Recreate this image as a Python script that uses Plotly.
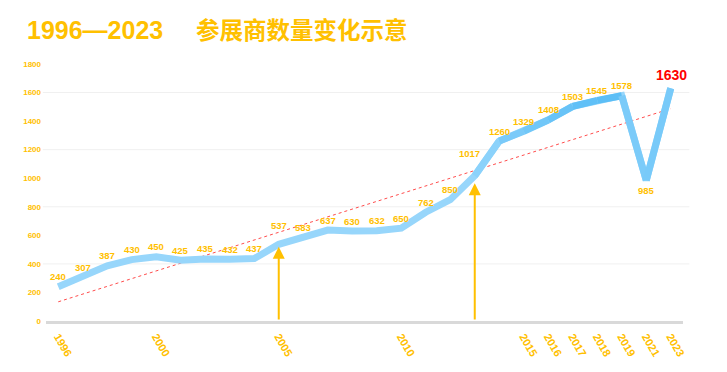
import numpy as np
import plotly.graph_objects as go

# ---- data ----
years = ["1996", "1997", "1998", "1999", "2000", "2001", "2002", "2003", "2004",
         "2005", "2006", "2007", "2008", "2009", "2010", "2011", "2012", "2013",
         "2014", "2015", "2016", "2017", "2018", "2019", "2021", "2023"]
exhibitors = [240, 307, 387, 430, 450, 425, 435, 432, 437, 537, 583, 637, 630,
              632, 650, 762, 850, 1017, 1260, 1329, 1408, 1503, 1545, 1578, 985, 1630]
tick_years = ["1996", "2000", "2005", "2010", "2015", "2016", "2017", "2018",
              "2019", "2021", "2023"]
y_ticks = [0, 200, 400, 600, 800, 1000, 1200, 1400, 1600, 1800]
grid_values = [400, 800, 1200, 1600]
arrow_years = ["2005", "2013"]
arrow_tops = [520, 965]
title_text = ("1996—2023\u00a0\u00a0\u00a0\u00a0\u2009"
              "<span style=\"font-family:'Noto Sans CJK SC';font-size:23.5px\">参展商数量变化示意</span>")

GOLD = "#FFC000"

idx = np.arange(len(years))
vals = np.array(exhibitors, dtype=float)
slope, intercept = np.polyfit(idx, vals, 1)
trend = intercept + slope * idx

fig = go.Figure()

fig.add_trace(go.Scatter(
    x=years, y=list(trend), mode="lines",
    line=dict(color="rgba(255,0,0,0.7)", width=1, dash="dot"),
    hoverinfo="skip", showlegend=False))

# base line
fig.add_trace(go.Scatter(
    x=years, y=exhibitors, mode="lines",
    line=dict(color="#97D6FB", width=7),
    showlegend=False))

# vertical gradient approximation: colour each segment by its height
light = np.array([0x9A, 0xD8, 0xFC])
dark = np.array([0x58, 0xBC, 0xF6])


def seg_color(v):
    t = np.clip((v - 1000) / (1600 - 1000), 0, 1)
    c = light + (dark - light) * t
    return "rgb(%d,%d,%d)" % tuple(int(round(u)) for u in c)


for i in range(len(years) - 1):
    mid = (vals[i] + vals[i + 1]) / 2
    if max(vals[i], vals[i + 1]) < 1100:
        continue
    fig.add_trace(go.Scatter(
        x=[years[i], years[i + 1]], y=[exhibitors[i], exhibitors[i + 1]],
        mode="lines", line=dict(color=seg_color(mid), width=7),
        hoverinfo="skip", showlegend=False))

# grid lines (every 400)
for g in grid_values:
    fig.add_shape(type="line", xref="paper", yref="y", x0=-0.005, x1=1.01,
                  y0=g, y1=g, line=dict(color="#F0F0F0", width=1), layer="below")

# data labels
special_shift = {"2005": (0, 19), "2013": (-5, 22), "2021": (0, -10)}
for i, (yr, v) in enumerate(zip(years, exhibitors)):
    dx, dy = special_shift.get(yr, (0, 10))
    if i == len(years) - 1:
        fig.add_annotation(x=i, y=v, xref="x", yref="y", text=str(v),
                           showarrow=False, yshift=13, xshift=1,
                           font=dict(family="Liberation Sans, Arial", size=14,
                                     color="#FF0000", weight="bold"))
    else:
        fig.add_annotation(x=i, y=v, xref="x", yref="y", text=str(v),
                           showarrow=False, yshift=dy, xshift=dx,
                           font=dict(family="Liberation Sans, Arial", size=9.5,
                                     color=GOLD, weight="bold"))

# arrows
for yr, top in zip(arrow_years, arrow_tops):
    k = years.index(yr)
    fig.add_annotation(x=k, y=top, ax=k, ay=0, xref="x", yref="y",
                       axref="x", ayref="y", text="", showarrow=True,
                       arrowhead=2, arrowsize=1.2, arrowwidth=2,
                       arrowcolor=GOLD, standoff=0, startstandoff=0)

fig.update_layout(
    width=727, height=372,
    margin=dict(l=46, r=44, t=64, b=51),
    paper_bgcolor="white", plot_bgcolor="white",
    title=dict(text=title_text, xref="container", yref="container",
               x=27 / 727, xanchor="left", y=1 - 30 / 372, yanchor="middle",
               font=dict(family="Liberation Sans, Noto Sans CJK SC", size=25,
                         color=GOLD, weight="bold")),
    xaxis=dict(type="category", categoryorder="array", categoryarray=years,
               range=[-0.5, len(years) - 0.5],
               tickvals=tick_years, ticktext=tick_years, tickangle=60,
               tickfont=dict(family="Liberation Sans, Arial", size=11,
                             color=GOLD, weight="bold"),
               ticklabelstandoff=2,
               showgrid=False, showline=True, linecolor="#D9D9D9", linewidth=3,
               ticks="", zeroline=False, automargin=False),
    yaxis=dict(range=[0, 1800], tickvals=y_ticks, showgrid=False,
               zeroline=False, showline=False, ticks="", automargin=False,
               ticklabelstandoff=4,
               tickfont=dict(family="Liberation Sans, Arial", size=8,
                             color=GOLD, weight="bold")),
)

fig.write_html("out.html", config={"displayModeBar": False},
               post_script="document.body.style.margin='0';document.body.style.overflow='hidden';")
